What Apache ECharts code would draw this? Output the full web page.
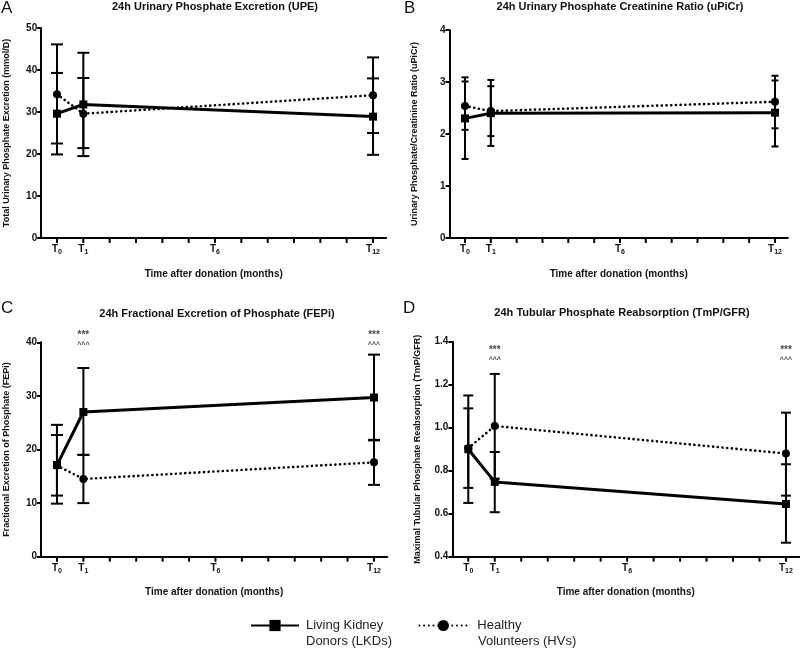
<!DOCTYPE html>
<html>
<head>
<meta charset="utf-8">
<script src="https://cdn.jsdelivr.net/npm/echarts@6/dist/echarts.min.js"></script>
<style>
  html, body { margin: 0; padding: 0; background: #fff; }
  #main { width: 800px; height: 649px; }
</style>
</head>
<body>
<div id="main"></div>
<script>
// months of the visits
let months = [0, 1, 12];
let tickMonths = [0, 1, 2, 3, 4, 5, 6, 7, 8, 9, 10, 11, 12];
let labelMonths = [0, 1, 6, 12];

// A - UPE (mmol/D)
let upeLKD = [29.6, 31.8, 28.9];
let upeLKDLow = [19.9, 19.5, 19.8];
let upeLKDHigh = [39.3, 44.1, 38.0];
let upeHV = [34.2, 29.6, 34.0];
let upeHVLow = [22.5, 21.4, 25.0];
let upeHVHigh = [46.1, 38.1, 43.0];

// B - uPiCr
let picrLKD = [2.30, 2.40, 2.41];
let picrLKDLow = [1.52, 1.77, 1.76];
let picrLKDHigh = [3.09, 3.04, 3.03];
let picrHV = [2.54, 2.44, 2.62];
let picrHVLow = [2.08, 1.96, 2.11];
let picrHVHigh = [3.01, 2.92, 3.12];

// C - FEPi
let fepiLKD = [17.1, 27.0, 29.7];
let fepiLKDLow = [9.9, 19.0, 21.7];
let fepiLKDHigh = [24.6, 35.2, 37.7];
let fepiHV = [17.0, 14.5, 17.6];
let fepiHVLow = [11.4, 10.0, 13.4];
let fepiHVHigh = [22.7, 19.0, 21.8];

// D - TmP/GFR
let tmpLKD = [0.90, 0.748, 0.645];
let tmpLKDLow = [0.65, 0.607, 0.465];
let tmpLKDHigh = [1.15, 0.887, 0.83];
let tmpHV = [0.905, 1.008, 0.88];
let tmpHVLow = [0.72, 0.763, 0.684];
let tmpHVHigh = [1.09, 1.25, 1.07];

// significance marks (*** vs T0, ^^^ vs HVs)
let sigMonths = [1, 12];
let sigText = '{s|***}\n{c|^^^}';

let LKD = 'Living Kidney Donors (LKDs)',
    HV = 'Healthy Volunteers (HVs)';
let font = 'Liberation Sans, Arial, Helvetica, sans-serif';

let grids = [
    {left: 41.2, right: 413.8, top: 28, bottom: 411},
    {left: 449.5, right: 12.1, top: 30, bottom: 411},
    {left: 41.1, right: 412.8, top: 342.3, bottom: 92.3},
    {left: 452.4, right: 0.8, top: 341.7, bottom: 92.3}
];
let yRanges = [
    {min: 0, max: 50, interval: 10, name: 'Total Urinary Phosphate Excretion (mmol/D)', fmt: v => v},
    {min: 0, max: 4, interval: 1, name: 'Urinary Phosphate/Creatinine Ratio (uPiCr)', fmt: v => v},
    {min: 0, max: 40, interval: 10, name: 'Fractional Excretion of Phosphate (FEPi)', fmt: v => v},
    {min: 0.4, max: 1.4, interval: 0.2, name: 'Maximal Tubular Phosphate Reabsorption (TmP/GFR)', fmt: v => v.toFixed(1)}
];
let capWidths = [12, 7, 12, 10];

let panels = [
    {lkd: upeLKD, lkdLo: upeLKDLow, lkdHi: upeLKDHigh, hv: upeHV, hvLo: upeHVLow, hvHi: upeHVHigh},
    {lkd: picrLKD, lkdLo: picrLKDLow, lkdHi: picrLKDHigh, hv: picrHV, hvLo: picrHVLow, hvHi: picrHVHigh},
    {lkd: fepiLKD, lkdLo: fepiLKDLow, lkdHi: fepiLKDHigh, hv: fepiHV, hvLo: fepiHVLow, hvHi: fepiHVHigh, sig: 40.4},
    {lkd: tmpLKD, lkdLo: tmpLKDLow, lkdHi: tmpLKDHigh, hv: tmpHV, hvLo: tmpHVLow, hvHi: tmpHVHigh, sig: 1.335}
];

function errorBar(capW){
    return function(params, api){
        let x = api.value(0),
            lo = api.coord([x, api.value(1)]),
            hi = api.coord([x, api.value(2)]);
        let style = {stroke: '#000', lineWidth: 2};
        return {
            type: 'group',
            children: [
                {type: 'line', shape: {x1: lo[0], y1: lo[1], x2: hi[0], y2: hi[1]}, style: style},
                {type: 'line', shape: {x1: lo[0] - capW / 2, y1: lo[1], x2: lo[0] + capW / 2, y2: lo[1]}, style: style},
                {type: 'line', shape: {x1: hi[0] - capW / 2, y1: hi[1], x2: hi[0] + capW / 2, y2: hi[1]}, style: style}
            ]
        };
    };
}

// month ticks below the x axis
function monthTick(yMin){
    return function(params, api){
        let p = api.coord([api.value(0), yMin]);
        return {
            type: 'line',
            shape: {x1: p[0], y1: p[1], x2: p[0], y2: p[1] + 5},
            style: {stroke: '#000', lineWidth: 2}
        };
    };
}

let xAxes = grids.map((g, i) => ({
    type: 'value',
    gridIndex: i,
    min: -0.6,
    max: 12.5,
    name: 'Time after donation (months)',
    nameLocation: 'middle',
    nameGap: 31,
    nameTextStyle: {fontFamily: font, fontWeight: 'bold', fontSize: 10, color: '#111'},
    splitLine: {show: false},
    axisLine: {show: true, onZero: false, lineStyle: {color: '#000', width: 2}},
    axisTick: {show: false},
    axisLabel: {
        customValues: labelMonths,
        margin: 5,
        formatter: v => '{t|T}{s|' + v + '}',
        rich: {
            t: {fontFamily: font, fontWeight: 'bold', fontSize: 10, color: '#111'},
            s: {fontFamily: font, fontWeight: 'bold', fontSize: 7, color: '#111', padding: [6, 0, 0, 0]}
        }
    }
}));

let yAxes = yRanges.map((r, i) => ({
    type: 'value',
    gridIndex: i,
    min: r.min,
    max: r.max,
    interval: r.interval,
    name: r.name,
    nameLocation: 'middle',
    nameGap: 30,
    nameTextStyle: {fontFamily: font, fontWeight: 'bold', fontSize: 9, color: '#111'},
    splitLine: {show: false},
    axisLine: {show: true, onZero: false, lineStyle: {color: '#000', width: 2}},
    axisTick: {show: true, length: 4, lineStyle: {color: '#000', width: 2}},
    axisLabel: {margin: 4, fontFamily: font, fontWeight: 'bold', fontSize: 10, color: '#111', formatter: r.fmt}
}));

let series = [];
panels.forEach((p, i) => {
    series.push({
        type: 'custom', name: 'tick-' + i, xAxisIndex: i, yAxisIndex: i, z: 1, silent: true,
        renderItem: monthTick(yRanges[i].min),
        data: tickMonths.map(m => [m])
    });
    series.push({
        type: 'custom', name: 'lkd-err-' + i, xAxisIndex: i, yAxisIndex: i, z: 1,
        renderItem: errorBar(capWidths[i]),
        data: months.map((m, k) => [m, p.lkdLo[k], p.lkdHi[k]])
    });
    series.push({
        type: 'custom', name: 'hv-err-' + i, xAxisIndex: i, yAxisIndex: i, z: 1,
        renderItem: errorBar(capWidths[i]),
        data: months.map((m, k) => [m, p.hvLo[k], p.hvHi[k]])
    });
    series.push({
        type: 'line', name: HV, xAxisIndex: i, yAxisIndex: i, z: 3,
        symbol: 'circle', symbolSize: 8,
        itemStyle: {color: '#000'},
        lineStyle: {color: '#000', width: 2.6, type: [0.1, 4.6], cap: 'round'},
        data: months.map((m, k) => [m, p.hv[k]])
    });
    series.push({
        type: 'line', name: LKD, xAxisIndex: i, yAxisIndex: i, z: 4,
        symbol: 'rect', symbolSize: 8,
        itemStyle: {color: '#000'},
        lineStyle: {color: '#000', width: 3},
        data: months.map((m, k) => [m, p.lkd[k]])
    });
    if(p.sig !== undefined)
        series.push({
            type: 'scatter', name: 'sig-' + i, xAxisIndex: i, yAxisIndex: i, z: 5,
            symbolSize: 1, itemStyle: {color: 'transparent'}, clip: false,
            label: {
                show: true, position: 'inside', formatter: sigText, color: '#111',
                rich: {
                    s: {fontFamily: font, fontWeight: 'bold', fontSize: 10, lineHeight: 9, color: '#111'},
                    c: {fontFamily: font, fontWeight: 'bold', fontSize: 7, lineHeight: 10, color: '#111'}
                }
            },
            data: sigMonths.map(m => [m, p.sig])
        });
});

let plainText = (text, x, y, style) => ({
    type: 'text', x: x, y: y,
    style: Object.assign({text: text, fontFamily: font, fill: '#111'}, style)
});
let titleStyle = {fontWeight: 'bold', fontSize: 11, textAlign: 'center', textVerticalAlign: 'middle'};
let letterStyle = {fontSize: 17};
let legendStyle = {fontSize: 13, fill: '#222', textVerticalAlign: 'middle'};

let chart = echarts.init(document.getElementById('main'), null, {renderer: 'canvas'});
chart.setOption({
    animation: false,
    backgroundColor: '#fff',
    grid: grids.map(g => Object.assign({containLabel: false, outerBoundsMode: 'none'}, g)),
    xAxis: xAxes,
    yAxis: yAxes,
    legend: {
        data: [
            {name: LKD, textStyle: {padding: [0, 0, 0, 2]}},
            {name: HV, textStyle: {padding: [0, 0, 0, 5]}}
        ],
        left: 245,
        top: 614,
        itemWidth: 48,
        itemHeight: 14,
        itemGap: 35,
        selectedMode: false,
        formatter: name => name.split(' ').slice(0, name === LKD ? 2 : 1).join(' '),
        textStyle: {fontFamily: font, fontSize: 13, color: '#222'}
    },
    graphic: [
        plainText('24h Urinary Phosphate Excretion (UPE)', 215, 7, titleStyle),
        plainText('24h Urinary Phosphate Creatinine Ratio (uPiCr)', 620, 7, titleStyle),
        plainText('24h Fractional Excretion of Phosphate (FEPi)', 217, 314, titleStyle),
        plainText('24h Tubular Phosphate Reabsorption (TmP/GFR)', 622, 313, titleStyle),
        plainText('A', 1, 0, letterStyle),
        plainText('B', 404, 0, letterStyle),
        plainText('C', 1, 300, letterStyle),
        plainText('D', 403, 300, letterStyle),
        plainText('Donors (LKDs)', 306, 641, legendStyle),
        plainText('Volunteers (HVs)', 478, 641, legendStyle)
    ],
    series: series
});
</script>
</body>
</html>
